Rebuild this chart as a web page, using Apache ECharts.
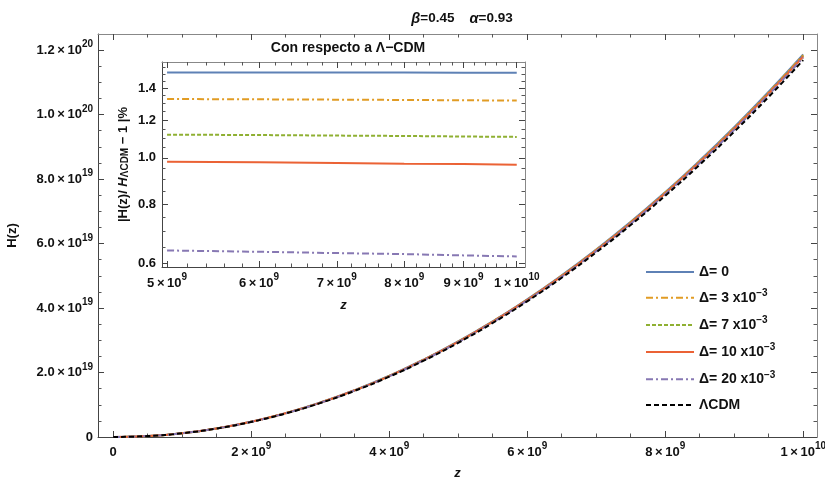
<!DOCTYPE html>
<html>
<head>
<meta charset="utf-8">
<script src="https://cdn.jsdelivr.net/npm/echarts@6/dist/echarts.min.js"></script>
<style>html,body{margin:0;padding:0;background:#fff;}#c{width:825px;height:481px;}</style>
</head>
<body>
<div id="c"></div>
<script>
// ---------- data ----------
const zMain = [0, 0.5e9, 1e9, 1.5e9, 2e9, 2.5e9, 3e9, 3.5e9, 4e9, 4.5e9, 5e9, 5.5e9, 6e9, 6.5e9, 7e9, 7.5e9, 8e9, 8.5e9, 9e9, 9.5e9, 1e10];
// H(z) in units of 1e19
const hLCDM = [0, 0.0292, 0.1169, 0.2630, 0.4676, 0.7306, 1.0521, 1.4320, 1.8704, 2.3672, 2.9225, 3.5362, 4.2084, 4.9390, 5.7281, 6.5756, 7.4816, 8.4460, 9.4689, 10.550, 11.690];
const hD0   = [0, 0.0296, 0.1187, 0.2670, 0.4747, 0.7416, 1.0680, 1.4536, 1.8986, 2.4029, 2.9666, 3.5896, 4.2720, 5.0136, 5.8146, 6.6749, 7.5946, 8.5735, 9.6119, 10.710, 11.867];
const hD3   = [0, 0.0296, 0.1184, 0.2665, 0.4738, 0.7402, 1.0660, 1.4509, 1.8951, 2.3985, 2.9611, 3.5829, 4.2640, 5.0042, 5.8037, 6.6624, 7.5804, 8.5575, 9.5939, 10.689, 11.844];
const hD7   = [0, 0.0295, 0.1182, 0.2659, 0.4728, 0.7387, 1.0638, 1.4479, 1.8912, 2.3935, 2.9549, 3.5755, 4.2551, 4.9938, 5.7917, 6.6486, 7.5647, 8.5398, 9.5740, 10.667, 11.820];
const hD10  = [0, 0.0295, 0.1180, 0.2656, 0.4721, 0.7377, 1.0623, 1.4459, 1.8885, 2.3902, 2.9509, 3.5705, 4.2492, 4.9869, 5.7837, 6.6394, 7.5542, 8.5279, 9.5608, 10.653, 11.803];
const hD20  = [0, 0.0294, 0.1176, 0.2647, 0.4706, 0.7352, 1.0587, 1.4410, 1.8822, 2.3821, 2.9409, 3.5585, 4.2349, 4.9701, 5.7642, 6.6170, 7.5287, 8.4992, 9.5286, 10.617, 11.764];

const zInset = [5e9, 6e9, 7e9, 8e9, 9e9, 1e10];
const pD0  = [1.510, 1.510, 1.509, 1.509, 1.508, 1.508];
const pD3  = [1.328, 1.326, 1.324, 1.322, 1.320, 1.318];
const pD7  = [1.118, 1.116, 1.113, 1.111, 1.108, 1.106];
const pD10 = [0.981, 0.978, 0.975, 0.972, 0.970, 0.967];
const pD20 = [0.639, 0.635, 0.631, 0.628, 0.624, 0.621];

const seriesNames = ['Δ= 0', 'Δ= 3 x10⁻³', 'Δ= 7 x10⁻³', 'Δ= 10 x10⁻³', 'Δ= 20 x10⁻³', 'ΛCDM'];
const legendRich = ['{b|Δ= 0}', '{b|Δ= 3 x10}{s|−3}', '{b|Δ= 7 x10}{s|−3}', '{b|Δ= 10 x10}{s|−3}', '{b|Δ= 20 x10}{s|−3}', '{b|ΛCDM}'];

const mainXTicks = [0, 2e9, 4e9, 6e9, 8e9, 1e10];
const mainXMinor = [5e8, 1e9, 1.5e9, 2.5e9, 3e9, 3.5e9, 4.5e9, 5e9, 5.5e9, 6.5e9, 7e9, 7.5e9, 8.5e9, 9e9, 9.5e9];
const mainYTicks = [0, 2e19, 4e19, 6e19, 8e19, 1e20, 1.2e20];
const mainYMinor = [0.5e19, 1e19, 1.5e19, 2.5e19, 3e19, 3.5e19, 4.5e19, 5e19, 5.5e19, 6.5e19, 7e19, 7.5e19, 8.5e19, 9e19, 9.5e19, 10.5e19, 11e19, 11.5e19];
const insetXTicks = [5e9, 6e9, 7e9, 8e9, 9e9, 1e10];
const insetXMinor = [5.2e9, 5.4e9, 5.6e9, 5.8e9, 6.2e9, 6.4e9, 6.6e9, 6.8e9, 7.2e9, 7.4e9, 7.6e9, 7.8e9, 8.2e9, 8.4e9, 8.6e9, 8.8e9, 9.2e9, 9.4e9, 9.6e9, 9.8e9];
const insetYTicks = [0.6, 0.8, 1.0, 1.2, 1.4];
const insetYMinor = [0.65, 0.7, 0.75, 0.85, 0.9, 0.95, 1.05, 1.1, 1.15, 1.25, 1.3, 1.35, 1.45, 1.5, 1.55];

// ---------- styling ----------
const FONT = 'Liberation Sans';
const TXT = '#111';
const FRAME_A = '#444';
const FRAME_B = '#888';
const colors = ['#5E81B5', '#E19C24', '#8FB032', '#EB6235', '#8778B3', '#000000'];
const dashes = ['solid', [7, 3, 2, 3], [4, 2], 'solid', [7, 3, 2, 3], [5, 3]];
const widths = [2, 2, 2, 2, 2, 2];
const THIN = '\u2009';

const rich = {
  m: {fontFamily: FONT, fontSize: 13, fontWeight: 'bold', color: TXT, lineHeight: 18},
  s: {fontFamily: FONT, fontSize: 10, fontWeight: 'bold', color: TXT, lineHeight: 18, padding: [0, 0, 11, 0]}
};

function sci(v, digits) {
  if (v === 0) return '{m|0}';
  const e = Math.floor(Math.log10(Math.abs(v)) + 1e-9);
  const m = v / Math.pow(10, e);
  return '{m|' + m.toFixed(digits) + THIN + '×' + THIN + '10}{s|' + e + '}';
}

function majorAxis(grid, type, pos, min, max, ticks, showLabel, fmt, lineColor, margin) {
  return {
    type: type, gridIndex: grid, position: pos, min: min, max: max,
    axisLine: {show: true, onZero: false, lineStyle: {color: lineColor, width: 1}},
    axisTick: {show: true, inside: true, length: 6, customValues: ticks, lineStyle: {color: '#444'}},
    axisLabel: showLabel ? {show: true, customValues: ticks, formatter: fmt, rich: rich, margin: margin, hideOverlap: false} : {show: false},
    splitLine: {show: false}, minorTick: {show: false}
  };
}
function minorAxis(grid, type, pos, min, max, ticks) {
  return {
    type: type, gridIndex: grid, position: pos, min: min, max: max,
    axisLine: {show: false, onZero: false},
    axisTick: {show: true, inside: true, length: 3.5, customValues: ticks, lineStyle: {color: '#555'}},
    axisLabel: {show: false}, splitLine: {show: false}
  };
}

const MX = [-2.2e8, 1.02e10], MY = [0, 12.5];
const IX = [4.95e9, 1.0165e10], IY = [0.59, 1.588];

const xAxes = [
  majorAxis(0, 'value', 'bottom', MX[0], MX[1], mainXTicks, true, v => sci(v, 0), FRAME_A, 6),
  minorAxis(0, 'value', 'bottom', MX[0], MX[1], mainXMinor),
  majorAxis(0, 'value', 'top', MX[0], MX[1], mainXTicks, false, null, FRAME_B, 0),
  minorAxis(0, 'value', 'top', MX[0], MX[1], mainXMinor),
  majorAxis(1, 'log', 'bottom', IX[0], IX[1], insetXTicks, true, v => sci(v, 0), FRAME_A, 7),
  minorAxis(1, 'log', 'bottom', IX[0], IX[1], insetXMinor),
  majorAxis(1, 'log', 'top', IX[0], IX[1], insetXTicks, false, null, FRAME_B, 0),
  minorAxis(1, 'log', 'top', IX[0], IX[1], insetXMinor)
];
// main y axis works in units of 1e19 (labels show the full value)
const yAxes = [
  majorAxis(0, 'value', 'left', MY[0], MY[1], mainYTicks.map(v => v / 1e19), true, v => sci(v * 1e19, 1), FRAME_A, 5),
  minorAxis(0, 'value', 'left', MY[0], MY[1], mainYMinor.map(v => v / 1e19)),
  majorAxis(0, 'value', 'right', MY[0], MY[1], mainYTicks.map(v => v / 1e19), false, null, FRAME_B, 0),
  minorAxis(0, 'value', 'right', MY[0], MY[1], mainYMinor.map(v => v / 1e19)),
  majorAxis(1, 'log', 'left', IY[0], IY[1], insetYTicks, true, v => '{m|' + v.toFixed(1) + '}', FRAME_A, 6),
  minorAxis(1, 'log', 'left', IY[0], IY[1], insetYMinor),
  majorAxis(1, 'log', 'right', IY[0], IY[1], insetYTicks, false, null, FRAME_B, 0),
  minorAxis(1, 'log', 'right', IY[0], IY[1], insetYMinor)
];

// axis names
xAxes[0].name = 'z'; xAxes[0].nameLocation = 'middle'; xAxes[0].nameGap = 27;
xAxes[0].nameTextStyle = {fontFamily: FONT, fontSize: 13, fontWeight: 'bold', fontStyle: 'italic', color: TXT};
yAxes[0].name = 'H(z)'; yAxes[0].nameLocation = 'middle'; yAxes[0].nameGap = 79;
yAxes[0].nameTextStyle = {fontFamily: FONT, fontSize: 13, fontWeight: 'bold', color: TXT};
xAxes[4].name = 'z'; xAxes[4].nameLocation = 'middle'; xAxes[4].nameGap = 32;
xAxes[4].nameTextStyle = {fontFamily: FONT, fontSize: 13, fontWeight: 'bold', fontStyle: 'italic', color: TXT};
yAxes[4].name = '{n||H(z)/ }{i|H}{sub|ΛCDM}{n| − 1 |%}'; yAxes[4].nameLocation = 'middle'; yAxes[4].nameGap = 31;
yAxes[4].nameTextStyle = {
  color: TXT,
  rich: {
    n: {fontFamily: FONT, fontSize: 13, fontWeight: 'bold', color: TXT, lineHeight: 16},
    i: {fontFamily: FONT, fontSize: 13, fontWeight: 'bold', fontStyle: 'italic', color: TXT, lineHeight: 16},
    sub: {fontFamily: FONT, fontSize: 10, fontWeight: 'bold', color: TXT, lineHeight: 16, padding: [5, 0, 0, 0]}
  }
};

const mainData = [hD0, hD3, hD7, hD10, hD20, hLCDM];
const insetData = [pD0, pD3, pD7, pD10, pD20];

const series = [];
mainData.forEach((arr, k) => {
  series.push({
    name: seriesNames[k], type: 'line', xAxisIndex: 0, yAxisIndex: 0,
    data: zMain.map((z, i) => [z, arr[i]]),
    symbol: 'none', smooth: true, silent: true,
    lineStyle: {color: colors[k], width: widths[k], type: dashes[k]},
    itemStyle: {color: colors[k]}, z: 2 + k
  });
});
insetData.forEach((arr, k) => {
  series.push({
    name: seriesNames[k], type: 'line', xAxisIndex: 4, yAxisIndex: 4,
    data: zInset.map((z, i) => [z, arr[i]]),
    symbol: 'none', smooth: false, silent: true,
    lineStyle: {color: colors[k], width: 2, type: dashes[k]},
    itemStyle: {color: colors[k]}, z: 10 + k
  });
});

const option = {
  backgroundColor: '#fff',
  animation: false,
  title: [
    {text: '{gi|β}{b|=0.45    }{gi|α}{b|=0.93}', left: 457, top: 6, textAlign: 'center',
     textStyle: {rich: {
       b: {fontFamily: FONT, fontSize: 13.5, fontWeight: 'bold', color: TXT},
       gi: {fontFamily: FONT, fontSize: 14.5, fontWeight: 'bold', fontStyle: 'italic', color: TXT}
     }}},
    {text: 'Con respecto a Λ−CDM', left: 343, top: 36, textAlign: 'center',
     textStyle: {fontFamily: FONT, fontSize: 14, fontWeight: 'bold', color: TXT}}
  ],
  grid: [
    {left: 98, right: 8, top: 34, bottom: 44, containLabel: false, outerBoundsMode: 'none'},
    {left: 162, right: 300, top: 62, bottom: 214, containLabel: false, outerBoundsMode: 'none',
     show: true, backgroundColor: '#fff', borderWidth: 0}
  ],
  legend: {
    orient: 'vertical', left: 640, top: 259, itemWidth: 48, itemHeight: 10, itemGap: 8.2,
    data: seriesNames,
    formatter: name => legendRich[seriesNames.indexOf(name)],
    itemStyle: {opacity: 0},
    textStyle: {color: TXT, lineHeight: 16, rich: {
      b: {fontFamily: FONT, fontSize: 14, fontWeight: 'bold', color: TXT, lineHeight: 16},
      s: {fontFamily: FONT, fontSize: 10, fontWeight: 'bold', color: TXT, lineHeight: 16, padding: [0, 0, 9, 0]}
    }},
    selectedMode: false
  },
  xAxis: xAxes,
  yAxis: yAxes,
  series: series
};

const chart = echarts.init(document.getElementById('c'), null, {renderer: 'canvas'});
chart.setOption(option);
</script>
</body>
</html>
